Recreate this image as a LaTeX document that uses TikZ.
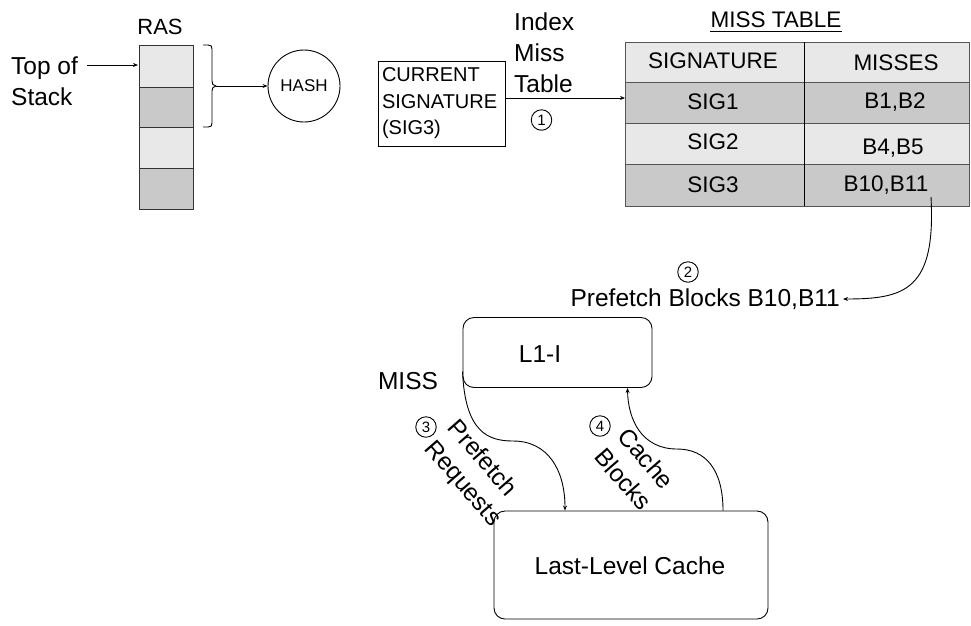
\documentclass[tikz,border=0pt]{standalone}
\usepackage{fontspec}
\setmainfont{Liberation Sans}
\usetikzlibrary{arrows.meta,calc}
\definecolor{cellL}{HTML}{E8E8E8}
\definecolor{cellD}{HTML}{C9C9C9}
\definecolor{tline}{HTML}{555555}
\tikzset{
  big/.style={font=\fontsize{24.5}{31}\selectfont, inner sep=0pt},
  tbl/.style={font=\fontsize{22.5}{26}\selectfont, inner sep=0pt},
  num/.style={circle, draw, line width=0.9pt, minimum size=20.5pt, inner sep=0pt, font=\fontsize{15}{15}\selectfont},
  arr/.style={line width=0.9pt, -{Stealth[length=5pt,width=4pt]}},
  rbox/.style={draw, line width=0.9pt, rounded corners=11pt},
}
\begin{document}
\begin{tikzpicture}[x=1pt,y=-1pt]
\useasboundingbox (0,0) rectangle (971,625);
% RAS stack
\node[font=\fontsize{22}{26}\selectfont, inner sep=0pt] (ras) at (160,27) {RAS};
\fill[cellL] (139,45) rectangle (193,87);
\fill[cellD] (139,87) rectangle (193,127);
\fill[cellL] (139,127) rectangle (193,168);
\fill[cellD] (139,168) rectangle (193,209);
\draw[line width=0.8pt, black!80] (139,45) rectangle (193,209);
\foreach \yy in {87,127,168} \draw[line width=0.8pt, black!80] (139,\yy) -- (193,\yy);
\coordinate (stacktop) at (138,65);
\node[big, align=left, anchor=west] (tos) at (11,81) {Top of\\Stack};
\draw[arr] (87,65) -- (stacktop);
% bracket
\draw[line width=0.9pt] (203,45) -- (208,45) .. controls (211,45) and (212,46) .. (212,49) -- (212,81)
  .. controls (212,84) and (213,85.5) .. (216,86) .. controls (213,86.5) and (212,88) .. (212,91)
  -- (212,123) .. controls (212,126) and (211,127) .. (208,127) -- (203,127);
\coordinate (brk) at (216,86);
% hash
\node[circle, draw, line width=0.9pt, minimum size=72pt, inner sep=0pt, font=\fontsize{17}{17}\selectfont] (hash) at (304,86) {HASH};
\draw[arr] (brk) -- (hash.west);
% current signature
\node[draw, line width=0.9pt, minimum width=127pt, minimum height=85pt, inner sep=0pt, font=\fontsize{20}{26.5}\selectfont, align=left, text width=119pt] (cur) at (441.5,103.5) {CURRENT\\SIGNATURE\\(SIG3)};
\node[big, align=left, anchor=west] (idx) at (514,53) {Index\\Miss\\Table};
\node[num] (n1) at (541.5,120) {1};
% table
\node[tbl] (mt) at (776,20) {MISS TABLE};
\draw[line width=0.8pt] (mt.south west)++(0,3) -- ($(mt.south east)+(0,3)$);
\fill[cellL] (625,42) rectangle (969,82);
\fill[cellD] (625,82) rectangle (969,123);
\fill[cellL] (625,123) rectangle (969,164);
\fill[cellD] (625,164) rectangle (969,206);
\draw[tline, line width=1pt] (625,42) rectangle (969,206);
\foreach \yy in {82,123,164} \draw[tline, line width=1pt] (625,\yy) -- (969,\yy);
\draw[black, line width=0.9pt] (804,42) -- (804,206);
\coordinate (tabin) at (625,98);
\node[tbl] (h1) at (713,61) {SIGNATURE};
\node[tbl] (h2) at (896,63) {MISSES};
\node[tbl] (s1) at (713,102) {SIG1};
\node[tbl] (m1) at (895,102) {B1,B2};
\node[tbl] (s2) at (713,142) {SIG2};
\node[tbl] (m2) at (893,148) {B4,B5};
\node[tbl] (s3) at (713,185) {SIG3};
\node[tbl] (m3) at (886,185) {B10,B11};
\draw[arr] (cur.east |- tabin) -- (tabin);
% prefetch blocks
\node[num] (n2) at (688,272) {2};
\node[big, anchor=east] (pb) at (840,299) {Prefetch Blocks B10,B11};
\coordinate (m3tail) at (931,197);
\draw[arr] (m3tail) .. controls (936,290) and (905,299) .. ($(pb.east)+(3,0)$);
% caches
\node[rbox, minimum width=189pt, minimum height=70pt] (l1) at (557.5,352.5) {};
\node[big] (l1t) at (540,354) {L1-I};
\node[rbox, minimum width=274pt, minimum height=108pt] (llc) at (631,565) {};
\node[big] (llct) at (630,566) {Last-Level Cache};
\node[big] (miss) at (408,381) {MISS};
\draw[arr] ($(l1.west)+(0,19)$) .. controls (465,432) and (488,441) .. (513,441)
   .. controls (548,441) and (565,470) .. ($(llc.north)+(-66,0)$);
\draw[arr] ($(llc.north)+(92,0)$) .. controls (723,470) and (706,449) .. (677,449)
   .. controls (642,449) and (628,420) .. ($(l1.south)+(70,0)$);
\node[num] (n3) at (426,427) {3};
\node[num] (n4) at (600,426) {4};
\node[big, align=left, rotate=-49] (pr) at (474,474) {Prefetch\\Requests};
\node[big, align=left, rotate=-49] (cb) at (635,469) {Cache\\Blocks};
\end{tikzpicture}
\end{document}
